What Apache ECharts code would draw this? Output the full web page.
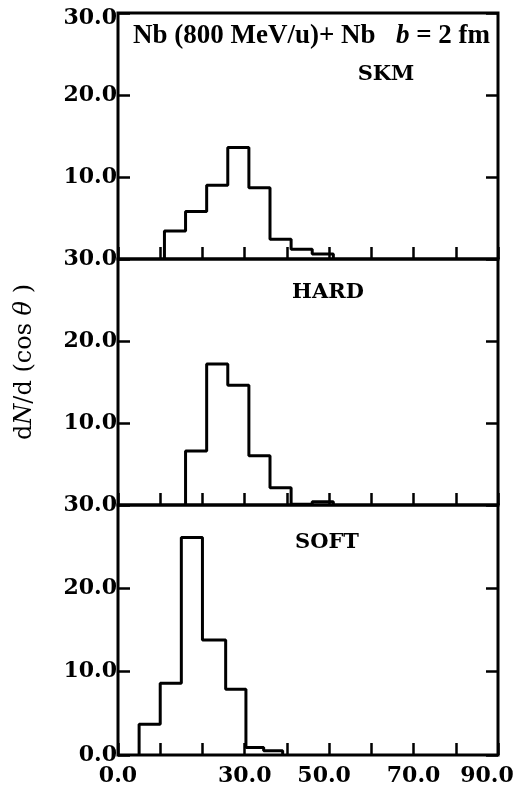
<!DOCTYPE html>
<html lang="en">
<head>
<meta charset="UTF-8">
<title>dN/d(cos θ)</title>
<script src="https://cdn.jsdelivr.net/npm/echarts@6/dist/echarts.min.js"></script>
<style>html,body{margin:0;padding:0;background:#fff}</style>
</head>
<body>
<div id="ec" style="width:518px;height:798px"></div>
<script>
// panels, top to bottom
var panelNames = ['SKM', 'HARD', 'SOFT']

// bin edges and heights
var skmEdges = [11, 16, 21, 26, 31, 36, 41, 46, 51]
var skmCounts = [3.4, 5.8, 9.0, 13.6, 8.7, 2.4, 1.2, 0.6]
var hardEdges = [16, 21, 26, 31, 36, 41, 46, 51]
var hardCounts = [6.6, 17.2, 14.6, 6.0, 2.1, 0.1, 0.4]
var softEdges = [5, 10, 15, 20, 25.5, 30.3, 34.5, 39]
var softCounts = [3.7, 8.6, 26.1, 13.8, 7.9, 0.9, 0.5]

// labelled ticks
var xLabelValues = [0, 30, 50, 70, 90]
var yLabelValues = [[10, 20, 30], [10, 20, 30], [0, 10, 20, 30]]

var edges = [skmEdges, hardEdges, softEdges]
var counts = [skmCounts, hardCounts, softCounts]

var labelFont = {fontFamily: 'DejaVu Serif', fontWeight: 'bold', fontSize: 22, color: '#000'}

function steps(e, c) {
    var pts = [[e[0], 0]]
    for (var i = 0; i < c.length; i++) {
        pts.push([e[i], c[i]])
        pts.push([e[i + 1], c[i]])
    }
    pts.push([e[e.length - 1], 0])
    return pts
}

var grids = [
    {left: 118, right: 20, top: 13, height: 246},
    {left: 118, right: 20, top: 259, height: 246},
    {left: 118, right: 20, top: 505, height: 250}
]
grids.forEach(function (g) {
    g.show = true
    g.borderColor = '#000'
    g.borderWidth = 3
})

var tick = {inside: true, length: 12, lineStyle: {color: '#000', width: 2.5}}
var xAxes = [], yAxes = [], series = []

for (var i = 0; i < 3; i++) {
    (function (i) {
        xAxes.push({
            type: 'value', gridIndex: i, min: 0, max: 90, interval: 10,
            axisLine: {show: false}, splitLine: {show: false}, axisTick: tick,
            axisLabel: i < 2 ? {show: false} : Object.assign({
                margin: 10,
                formatter: function (v) {
                    if (xLabelValues.indexOf(v) < 0) return ''
                    if (v === 90) return '{r|' + v.toFixed(1) + '}'
                    if (v === 50) return '{m|' + v.toFixed(1) + '}'
                    return v.toFixed(1)
                },
                rich: {
                    r: Object.assign({padding: [0, 22, 0, 0]}, labelFont),
                    m: Object.assign({padding: [0, 10, 0, 0]}, labelFont)
                }
            }, labelFont)
        })
        yAxes.push({
            type: 'value', gridIndex: i, min: 0, max: 30, interval: 10,
            axisLine: {show: false}, splitLine: {show: false}, axisTick: tick,
            axisLabel: Object.assign({
                margin: 1,
                formatter: function (v) {
                    if (yLabelValues[i].indexOf(v) < 0) return ''
                    // the very top label sits a little below the frame
                    if (i === 0 && v === 30) return '{t|' + v.toFixed(1) + '}'
                    return v.toFixed(1)
                },
                rich: {t: Object.assign({padding: [10, 0, 0, 0]}, labelFont)}
            }, labelFont)
        })
        yAxes.push({
            type: 'value', gridIndex: i, position: 'right', min: 0, max: 30, interval: 10,
            axisLine: {show: false}, splitLine: {show: false}, axisTick: tick,
            axisLabel: {show: false}
        })
        series.push({
            name: panelNames[i], type: 'line', xAxisIndex: i, yAxisIndex: i * 2,
            data: steps(edges[i], counts[i]), symbol: 'none', silent: true,
            lineStyle: {color: '#000', width: 3}
        })
    })(i)
}

var serif = 'Liberation Serif'
var panelFont = {fontFamily: 'DejaVu Serif', fontWeight: 'bold', fontSize: 21, fill: '#000', align: 'center', verticalAlign: 'middle'}
var graphics = [
    {
        type: 'text', x: 133, y: 36,
        style: {
            text: '{a|Nb (800 MeV/u)+ Nb   }{i|b}{a| = 2 fm}',
            verticalAlign: 'middle',
            rich: {
                a: {fontFamily: serif, fontSize: 27, fontWeight: 'bold', fill: '#000'},
                i: {fontFamily: serif, fontSize: 27, fontWeight: 'bold', fontStyle: 'italic', fill: '#000'}
            }
        }
    },
    {type: 'text', x: 386, y: 75, style: Object.assign({text: panelNames[0]}, panelFont)},
    {type: 'text', x: 328, y: 293, style: Object.assign({text: panelNames[1]}, panelFont)},
    {type: 'text', x: 327, y: 543, style: Object.assign({text: panelNames[2]}, panelFont)},
    {
        type: 'text', x: 25, y: 362, rotation: Math.PI / 2,
        style: {
            text: '{a|d}{i|N}{a|/d (cos }{i|θ}{a| )}',
            align: 'center', verticalAlign: 'middle',
            rich: {
                a: {fontFamily: 'DejaVu Serif', fontSize: 24, fill: '#000'},
                i: {fontFamily: 'DejaVu Serif', fontSize: 24, fontStyle: 'italic', fill: '#000'}
            }
        }
    }
]

var mychart = echarts.init(document.getElementById('ec'))
mychart.setOption({
    animation: false,
    grid: grids,
    xAxis: xAxes,
    yAxis: yAxes,
    series: series,
    graphic: graphics
})
</script>
</body>
</html>
